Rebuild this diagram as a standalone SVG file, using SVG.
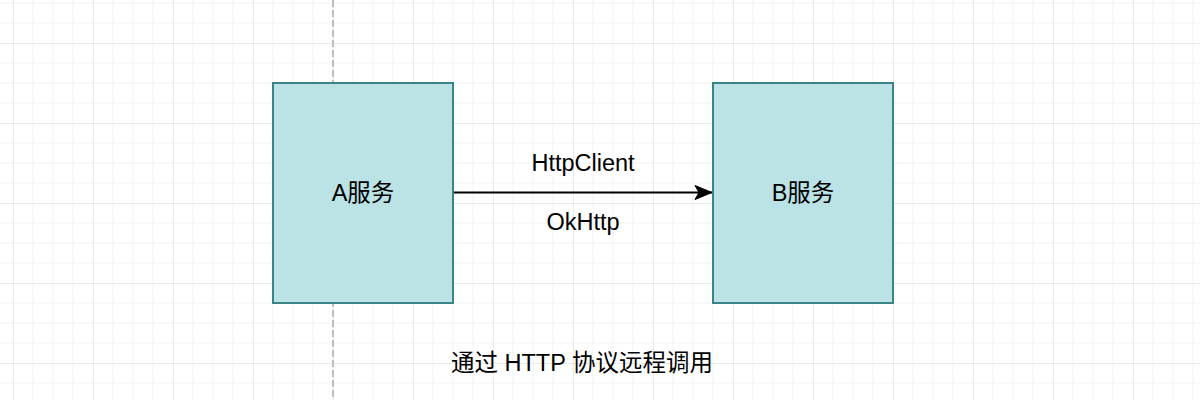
<svg xmlns="http://www.w3.org/2000/svg" width="1200" height="400" viewBox="0 0 1200 400">
  <style>
    .node rect { fill: #bbe2e5; stroke: #3a8389; stroke-width: 2; }
    .lbl { font-family: "Liberation Sans", "Noto Sans CJK SC", Arial, sans-serif; font-size: 23.5px; fill: #000; text-anchor: middle; }
    .minor { stroke: #f2f2f2; stroke-width: 1; }
    .major { stroke: #e3e3e3; stroke-width: 1.5; }
  </style>
  <defs>
    <pattern id="grid" patternUnits="userSpaceOnUse" x="13" y="43" width="80" height="80">
      <line class="minor" x1="20" y1="0" x2="20" y2="80"/>
      <line class="minor" x1="40" y1="0" x2="40" y2="80"/>
      <line class="minor" x1="60" y1="0" x2="60" y2="80"/>
      <line class="minor" x1="0" y1="20" x2="80" y2="20"/>
      <line class="minor" x1="0" y1="40" x2="80" y2="40"/>
      <line class="minor" x1="0" y1="60" x2="80" y2="60"/>
      <line class="major" x1="0" y1="0" x2="0" y2="80"/>
      <line class="major" x1="0" y1="0" x2="80" y2="0"/>
    </pattern>
    <marker id="arrow" markerUnits="userSpaceOnUse" markerWidth="20" markerHeight="20" refX="18" refY="8" orient="auto">
      <path d="M1,1 L18,8 L1,15 L5,8 Z" fill="#000" stroke="#000" stroke-width="1"/>
    </marker>
  </defs>
  <rect width="1200" height="400" fill="#ffffff"/>
  <rect width="1200" height="400" fill="url(#grid)"/>
  <line x1="333" y1="0" x2="333" y2="400" stroke="#bdbdbd" stroke-width="2" stroke-dasharray="7 3"/>

  <g id="connectors">
    <line x1="454" y1="192.5" x2="712" y2="192.5" stroke="#000" stroke-width="2" marker-end="url(#arrow)"/>
    <text class="lbl" x="583" y="171">HttpClient</text>
    <text class="lbl" x="583" y="230">OkHttp</text>
  </g>

  <g id="nodeA" class="node">
    <rect x="273" y="83" width="180" height="220"/>
    <text class="lbl" x="363" y="201">A服务</text>
  </g>
  <g id="nodeB" class="node">
    <rect x="713" y="83" width="180" height="220"/>
    <text class="lbl" x="803" y="201">B服务</text>
  </g>

  <g id="caption">
    <text class="lbl" x="582" y="371">通过 HTTP 协议远程调用</text>
  </g>
</svg>
